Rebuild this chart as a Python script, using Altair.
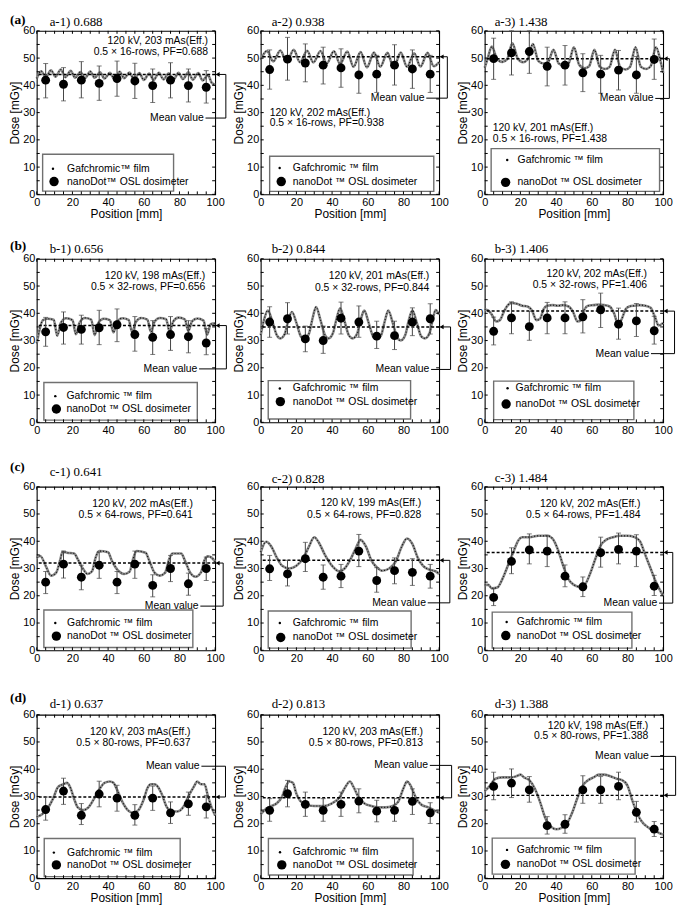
import altair as alt
import pandas as pd

SANS = "Liberation Sans"
SERIF = "Liberation Serif"
W, H = 180, 165

# ---------------- data ----------------
PANEL_IDS = ["a-1", "a-2", "a-3", "b-1", "b-2", "b-3", "c-1", "c-2", "c-3", "d-1", "d-2", "d-3"]
TITLES = ["a-1) 0.688", "a-2) 0.938", "a-3) 1.438", "b-1) 0.656", "b-2) 0.844", "b-3) 1.406",
          "c-1) 0.641", "c-2) 0.828", "c-3) 1.484", "d-1) 0.637", "d-2) 0.813", "d-3) 1.388"]
ROW_LABELS = ["(a)", "(b)", "(c)", "(d)"]
ANNOT = {
    "a-1": ["120 kV, 203 mAs(Eff.)", "0.5 \u00d7 16-rows, PF=0.688"],
    "a-2": ["120 kV, 202 mAs(Eff.)", "0.5 \u00d7 16-rows, PF=0.938"],
    "a-3": ["120 kV, 201 mAs(Eff.)", "0.5 \u00d7 16-rows, PF=1.438"],
    "b-1": ["120 kV, 198 mAs(Eff.)", "0.5 \u00d7 32-rows, PF=0.656"],
    "b-2": ["120 kV, 201 mAs(Eff.)", "0.5 \u00d7 32-rows, PF=0.844"],
    "b-3": ["120 kV, 202 mAs(Eff.)", "0.5 \u00d7 32-rows, PF=1.406"],
    "c-1": ["120 kV, 202 mAs(Eff.)", "0.5 \u00d7 64-rows, PF=0.641"],
    "c-2": ["120 kV, 199 mAs(Eff.)", "0.5 \u00d7 64-rows, PF=0.828"],
    "c-3": ["120 kV, 202 mAs(Eff.)", "0.5 \u00d7 64-rows, PF=1.484"],
    "d-1": ["120 kV, 203 mAs(Eff.)", "0.5 \u00d7 80-rows, PF=0.637"],
    "d-2": ["120 kV, 203 mAs(Eff.)", "0.5 \u00d7 80-rows, PF=0.813"],
    "d-3": ["120 kV, 198 mAs(Eff.)", "0.5 \u00d7 80-rows, PF=1.388"],
}
LEGEND_FILM = "Gafchromic \u2122 film"
LEGEND_FILM_A1 = "Gafchromic\u2122 film"
LEGEND_OSL = "nanoDot \u2122 OSL dosimeter"
LEGEND_OSL_A1 = "nanoDot\u2122 OSL dosimeter"
MEAN_LABEL = "Mean value"

X_LABELS = [0, 20, 40, 60, 80, 100]
Y_LABELS = [0, 10, 20, 30, 40, 50, 60]
TICK_X = [0, 5, 10, 15, 20, 25, 30, 35, 40, 45, 50, 55, 60, 65, 70, 75, 80, 85, 90, 95, 100]
TICK_Y = [0, 5, 10, 15, 20, 25, 30, 35, 40, 45, 50, 55, 60]

MEAN = {"a-1": 44.0, "a-2": 50.5, "a-3": 49.8, "b-1": 35.5, "b-2": 35.0, "b-3": 40.8,
        "c-1": 32.0, "c-2": 33.0, "c-3": 35.9, "d-1": 29.8, "d-2": 29.5, "d-3": 30.4}

OSL_X = [5, 15, 25, 35, 45, 55, 65, 75, 85, 95]
OSL_Y = {
    "a-1": [41.9, 40.4, 41.9, 40.7, 42.5, 41.6, 39.9, 41.9, 39.9, 39.3],
    "a-2": [45.8, 49.6, 48.2, 47.4, 46.4, 43.8, 44.1, 47.4, 46.0, 44.1],
    "a-3": [49.8, 51.9, 52.4, 47.0, 47.4, 44.6, 44.1, 45.6, 43.8, 49.5],
    "b-1": [33.2, 34.8, 34.1, 34.7, 35.8, 32.2, 31.2, 32.2, 31.4, 29.1],
    "b-2": [36.8, 38.0, 30.6, 30.0, 38.2, 36.8, 31.6, 31.8, 36.8, 38.0],
    "b-3": [33.4, 38.3, 35.1, 38.3, 38.3, 38.7, 41.3, 36.0, 37.2, 33.6],
    "c-1": [25.0, 31.6, 26.8, 31.2, 25.0, 31.6, 23.8, 30.0, 24.4, 30.0],
    "c-2": [29.9, 28.0, 33.6, 26.8, 27.2, 36.4, 25.6, 29.2, 28.6, 27.2],
    "c-3": [19.4, 32.6, 36.8, 36.4, 27.2, 23.3, 35.8, 37.0, 36.4, 23.5],
    "d-1": [25.2, 32.0, 23.1, 30.9, 29.4, 23.1, 29.4, 24.0, 27.3, 26.2],
    "d-2": [24.9, 31.0, 27.1, 24.9, 27.1, 28.3, 24.6, 24.9, 28.2, 24.0],
    "d-3": [33.7, 34.9, 32.4, 19.3, 19.8, 32.4, 32.4, 33.7, 24.2, 18.0],
}
OSL_HI = {
    "a-1": [48.0, 46.5, 48.7, 47.1, 48.9, 48.1, 46.0, 48.3, 46.0, 45.4],
    "a-2": [53.0, 57.6, 55.2, 54.0, 53.4, 50.4, 51.0, 54.9, 53.0, 51.0],
    "a-3": [57.3, 60.0, 60.0, 54.0, 54.6, 51.6, 51.0, 52.8, 50.6, 57.0],
    "b-1": [38.5, 40.5, 39.3, 41.1, 41.6, 38.8, 37.3, 38.8, 37.3, 34.4],
    "b-2": [42.4, 43.9, 35.3, 35.3, 44.1, 42.7, 37.1, 37.1, 42.0, 43.5],
    "b-3": [38.6, 44.2, 40.7, 44.0, 44.2, 45.0, 47.4, 41.9, 43.6, 38.9],
    "c-1": [28.9, 36.4, 31.2, 36.0, 28.9, 36.4, 27.7, 34.8, 28.3, 34.2],
    "c-2": [34.8, 33.0, 39.6, 31.3, 31.5, 42.5, 30.3, 33.9, 33.6, 31.5],
    "c-3": [22.7, 37.6, 42.7, 42.2, 31.3, 26.9, 41.5, 43.0, 42.4, 27.5],
    "d-1": [29.8, 36.7, 27.4, 35.6, 34.1, 27.0, 33.8, 28.0, 31.6, 30.4],
    "d-2": [29.2, 35.9, 31.6, 29.2, 31.6, 32.8, 28.6, 29.2, 32.8, 27.7],
    "d-3": [38.9, 40.1, 37.3, 22.6, 23.3, 37.6, 37.3, 38.9, 28.2, 20.8],
}
OSL_LO = {
    "a-1": [35.4, 34.3, 35.4, 34.5, 36.0, 35.2, 33.7, 35.4, 33.9, 33.5],
    "a-2": [38.6, 41.9, 41.3, 40.5, 39.3, 37.1, 37.4, 40.1, 38.9, 37.4],
    "a-3": [42.2, 43.8, 44.4, 39.8, 40.1, 37.7, 37.1, 38.3, 37.1, 42.2],
    "b-1": [27.9, 28.7, 28.7, 28.5, 29.6, 26.1, 24.9, 26.4, 25.5, 24.8],
    "b-2": [31.2, 32.4, 25.9, 25.3, 32.4, 31.2, 27.1, 26.7, 31.8, 32.4],
    "b-3": [28.4, 32.5, 30.1, 32.5, 32.5, 32.8, 34.8, 30.5, 31.5, 28.7],
    "c-1": [20.8, 26.5, 22.2, 26.4, 20.8, 26.4, 19.6, 25.2, 20.2, 25.6],
    "c-2": [25.6, 23.6, 28.9, 22.4, 23.0, 30.7, 21.3, 24.4, 23.8, 22.8],
    "c-3": [16.4, 28.1, 31.7, 30.7, 23.3, 19.7, 30.5, 31.7, 30.7, 20.1],
    "d-1": [21.3, 27.1, 19.7, 26.2, 24.6, 19.5, 24.9, 20.1, 23.1, 22.1],
    "d-2": [20.9, 26.2, 22.7, 20.9, 22.7, 24.0, 20.7, 20.9, 23.4, 20.1],
    "d-3": [28.8, 29.6, 27.9, 16.2, 16.5, 27.5, 27.5, 28.8, 20.6, 15.3],
}

FILM_X = {
    "a-1": [0, 2.5, 5, 8, 10.5, 13.5, 16, 19, 21.5, 24.5, 27, 30, 32.5, 35.5, 38, 41, 43.5, 46.5, 49, 52,
            54.5, 57.5, 60, 63, 65.5, 68.5, 71, 74, 76.5, 79.5, 82, 85, 87.5, 90.5, 93, 96, 98, 100],
    "a-2": [0, 3.5, 7, 11, 14.5, 18.5, 22, 26, 29.5, 33.5, 37, 41, 44.5, 48.5, 52, 56, 59.5, 63.5, 67, 71,
            74.5, 78.5, 82, 86, 89.5, 93.5, 97, 100],
    "a-3": [0, 1.5, 4, 7, 10, 12.5, 15.5, 18.5, 21.5, 24, 27, 30, 33, 35.5, 38.5, 41.5, 44.5, 47, 50, 53,
            56, 58.5, 61.5, 64.5, 67.5, 70, 73, 76, 79, 81.5, 84.5, 87.5, 90.5, 93, 96, 98.5, 100],
    "b-1": [0, 3.5, 6, 9.5, 11.5, 13.5, 16.5, 20, 22, 24, 27, 30.5, 32.5, 34.5, 37.5, 41, 43, 45, 48, 51.5,
            53.5, 55.5, 58.5, 62, 64, 66, 69, 72.5, 74.5, 76.5, 79.5, 83, 85, 87, 90, 93.5, 95.5, 97.5, 100],
    "b-2": [0, 2, 4, 6.5, 9, 11, 13.5, 15.5, 17.5, 20, 22.5, 24.5, 27, 29, 31, 33.5, 36, 38, 40.5, 42.5,
            44.5, 47, 49.5, 51.5, 54, 56, 58, 60.5, 63, 65, 67.5, 69.5, 71.5, 74, 76.5, 78.5, 81, 83, 85,
            87.5, 90, 92, 94.5, 96.5, 98, 100],
    "b-3": [0, 2, 4, 6.5, 8.5, 11, 13, 15, 18, 21, 24, 26.5, 29, 31, 33, 35, 38, 41, 44, 47, 49.5, 52, 54,
            56, 58, 61, 64, 67, 70, 72.5, 74.5, 76.5, 79, 81, 84, 87, 90, 93, 95.5, 97.5, 100],
    "c-1": [0, 2, 5, 8, 11, 13, 14.5, 17, 21, 23, 26, 28.5, 31, 33, 35, 40, 42, 46, 49, 52, 54, 56, 61, 63,
            66, 69, 72, 74, 76, 81, 83, 86, 89, 92, 94, 96, 98, 100],
    "c-2": [0, 3, 6, 9, 12, 16, 20, 24, 27, 30, 33, 36, 40, 44, 47, 50, 53, 56, 59, 62, 65, 68, 72, 76,
            79, 82, 85, 88, 91, 95, 98, 100],
    "c-3": [0, 2, 4, 7, 10, 13, 16, 19, 21, 25, 30, 35, 38, 41, 44, 47, 50, 53, 56, 59, 62, 65, 68, 72,
            76, 80, 84, 87, 90, 93, 96, 100],
    "d-1": [0, 3, 6, 9, 12, 15, 17, 19, 21, 23, 26, 29, 32, 35, 38, 41, 43, 45, 48, 51, 54, 57, 60, 62,
            64, 66, 68, 70, 73, 76, 79, 82, 85, 88, 90, 92, 94, 96, 98, 100],
    "d-2": [0, 3, 6, 9, 12, 14, 16, 18, 20, 22, 25, 30, 35, 40, 44, 47, 50, 52, 55, 58, 62, 66, 70, 74,
            77, 80, 82, 84, 87, 90, 94, 97, 100],
    "d-3": [0, 3, 6, 10, 15, 18, 20, 22, 25, 28, 31, 34, 37, 40, 43, 46, 49, 52, 55, 58, 61, 64, 67, 70,
            74, 77, 80, 83, 86, 89, 92, 95, 98, 100],
}
FILM_Y = {
    "a-1": [42.5, 45.2, 43.0, 45.5, 43.2, 45.8, 43.0, 45.3, 42.8, 44.9, 42.6, 45.1, 42.8, 44.8, 42.5, 44.6,
            42.4, 45.0, 42.6, 44.7, 42.3, 44.5, 42.0, 44.3, 42.0, 44.6, 42.2, 44.4, 42.0, 44.6, 42.3, 44.8,
            42.1, 44.5, 41.8, 43.8, 41.0, 40.2],
    "a-2": [49.5, 52.6, 48.8, 52.8, 48.6, 53.0, 48.5, 52.7, 48.4, 52.6, 48.0, 52.5, 47.8, 52.4, 46.8, 52.2,
            46.6, 52.0, 46.8, 51.9, 46.5, 52.0, 46.8, 51.8, 46.9, 51.9, 47.0, 48.5],
    "a-3": [46.5, 49.5, 54.2, 49.5, 48.6, 49.5, 55.4, 49.8, 48.5, 49.5, 55.2, 49.0, 48.0, 48.5, 53.0, 48.0,
            47.2, 48.0, 54.0, 47.5, 46.3, 47.0, 53.0, 46.8, 46.0, 46.8, 53.0, 46.6, 45.8, 46.8, 54.0, 46.8,
            46.0, 47.0, 54.0, 49.0, 44.5],
    "b-1": [29.0, 37.5, 38.0, 37.6, 31.8, 36.5, 38.2, 37.5, 32.3, 36.6, 38.3, 37.7, 32.0, 36.5, 38.0, 37.5,
            33.0, 36.8, 38.2, 37.6, 33.0, 36.8, 38.3, 37.7, 33.2, 36.9, 38.3, 37.8, 33.3, 37.0, 38.4, 37.8,
            33.5, 37.0, 38.1, 37.3, 32.2, 36.0, 36.3],
    "b-2": [32.0, 38.0, 41.0, 37.0, 32.0, 30.8, 32.5, 37.5, 40.5, 36.5, 31.5, 30.5, 32.5, 38.0, 42.3, 37.5,
            32.0, 30.8, 32.8, 38.0, 41.8, 37.0, 31.8, 30.8, 32.5, 37.5, 41.0, 36.5, 31.5, 30.5, 32.0, 37.0,
            41.0, 36.5, 31.0, 30.0, 32.0, 37.5, 41.0, 36.5, 31.5, 30.8, 32.5, 38.0, 41.2, 39.5],
    "b-3": [41.5, 41.0, 39.5, 37.0, 37.5, 41.0, 43.0, 43.8, 43.5, 42.8, 42.5, 41.0, 37.5, 38.0, 41.5, 42.8,
            43.0, 42.8, 43.0, 42.5, 40.5, 37.0, 37.5, 41.5, 42.8, 43.0, 43.2, 43.0, 42.5, 40.0, 36.5, 37.5,
            41.5, 42.5, 42.8, 43.0, 42.8, 42.0, 38.5, 35.5, 36.5],
    "c-1": [34.0, 34.6, 31.0, 27.4, 28.6, 32.8, 36.1, 35.8, 35.5, 33.4, 29.8, 28.0, 29.0, 34.0, 36.4, 36.0,
            33.0, 29.0, 28.0, 28.8, 33.5, 36.4, 35.8, 33.0, 28.5, 27.4, 28.5, 33.0, 35.5, 35.5, 33.0, 28.5,
            27.0, 28.5, 33.0, 34.5, 34.0, 32.5],
    "c-2": [36.0, 39.8, 38.0, 34.0, 31.0, 30.0, 31.0, 34.0, 38.0, 41.5, 39.0, 35.0, 31.0, 29.0, 30.0, 33.0,
            37.0, 40.5, 38.0, 33.0, 30.5, 29.2, 30.0, 33.0, 38.0, 41.0, 39.0, 34.0, 31.0, 29.5, 29.0, 28.0],
    "c-3": [24.0, 24.0, 22.7, 23.0, 26.3, 31.1, 36.0, 40.5, 41.5, 41.5, 42.0, 42.0, 41.0, 37.0, 31.0, 26.0,
            24.0, 23.3, 24.0, 28.0, 33.5, 38.5, 40.5, 41.5, 42.0, 42.0, 41.5, 40.0, 35.0, 30.0, 25.0, 20.0],
    "d-1": [22.5, 23.5, 25.5, 29.0, 33.5, 34.5, 35.0, 33.0, 29.0, 26.0, 25.0, 26.0, 29.0, 32.5, 35.0, 35.5,
            35.0, 32.5, 28.0, 25.0, 24.0, 25.0, 29.0, 33.0, 34.5, 34.5, 33.5, 31.0, 26.0, 24.5, 24.5, 26.0,
            30.0, 33.5, 35.5, 34.5, 34.5, 30.0, 26.0, 23.0],
    "d-2": [23.5, 25.5, 26.5, 27.5, 30.0, 33.5, 35.5, 35.0, 31.0, 28.5, 27.0, 26.5, 26.5, 27.5, 29.5, 33.0,
            35.5, 33.5, 29.5, 27.5, 26.5, 26.0, 26.0, 26.5, 28.0, 33.0, 35.5, 34.0, 29.5, 27.0, 26.0, 25.0,
            24.0],
    "d-3": [32.0, 34.0, 36.5, 37.0, 37.0, 37.5, 38.0, 37.0, 36.0, 33.0, 28.0, 22.0, 19.0, 18.0, 18.5, 20.0,
            24.0, 29.5, 34.0, 36.0, 37.0, 38.0, 38.0, 37.5, 36.5, 36.0, 34.0, 28.0, 23.0, 20.0, 18.5, 17.5,
            16.5, 16.0],
}

# ---------------- layout (annotation positions, in axis units) ----------------
LAYOUT = {
    "a-1": dict(tdy=-9, ann=(96, 56.3, 52.3, "right"), lbl=(93.6, 28.0), bx=106, box=(3.3, 76.7, 1.2, 14.7), dot=(9.1, 9.4), circ=(9.7, 4.7), tx=17),
    "a-2": dict(tdy=-9, ann=(5, 30.0, 26.0, "left"), lbl=(91.8, 35.3), bx=104.6, box=(5, 97, 1.1, 14.0), dot=(10.6, 9.7), circ=(11.5, 4.7), tx=18),
    "a-3": dict(tdy=-9, ann=(4.5, 24.2, 20.3, "left"), lbl=(94.6, 35.2), bx=103.5, box=(3.6, 98, 1.1, 16.8), dot=(12.6, 12.6), circ=(11.7, 4.4), tx=18.4),
    "b-1": dict(tdy=-10, ann=(94.5, 53.8, 49.6, "right"), lbl=(90.0, 19.6), bx=106.3, box=(4, 90, 0.8, 14.6), dot=(10.4, 9.6), circ=(11, 4.9), tx=16.7),
    "b-2": dict(tdy=-10, ann=(94.5, 53.5, 49.4, "right"), lbl=(94.5, 19.4), bx=106.4, box=(4.2, 84, 1.2, 15.3), dot=(10.7, 12.4), circ=(11, 7.6), tx=18),
    "b-3": dict(tdy=-10, ann=(91, 54.4, 50.3, "right"), lbl=(92.2, 25.2), bx=106.4, box=(5, 83.6, 1.0, 15.1), dot=(12.8, 12.5), circ=(12, 6.7), tx=17.3),
    "c-1": dict(tdy=-15, ann=(87.5, 53.8, 49.6, "right"), lbl=(90.7, 16.2), bx=104.5, box=(4, 87.5, 1.0, 14.8), dot=(10.4, 10.0), circ=(11, 5.2), tx=17),
    "c-2": dict(tdy=-8, ann=(90, 54.0, 49.6, "right"), lbl=(92.6, 17.4), bx=106, box=(4.2, 84.3, 0.8, 14.4), dot=(10.7, 10.0), circ=(11.2, 4.7), tx=18),
    "c-3": dict(tdy=-9, ann=(87.3, 53.8, 49.6, "right"), lbl=(96.7, 17.3), bx=105.4, box=(4.2, 82.5, 0.8, 14.0), dot=(12.3, 10.4), circ=(11.8, 5.4), tx=18),
    "d-1": dict(tdy=-11, ann=(86.2, 53.8, 49.5, "right"), lbl=(91.3, 41.1), bx=105.8, box=(4.2, 80.4, 0.6, 14.6), dot=(9.6, 9.4), circ=(11, 4.9), tx=17),
    "d-2": dict(tdy=-11, ann=(91, 53.8, 49.5, "right"), lbl=(93.8, 41.4), bx=107, box=(4.3, 85.4, 1.2, 14.6), dot=(10.8, 9.5), circ=(11.8, 4.9), tx=18),
    "d-3": dict(tdy=-11, ann=(91.7, 56.0, 52.0, "right"), lbl=(92.0, 44.7), bx=107, box=(4.2, 84.3, 1.5, 14.7), dot=(12.5, 10.4), circ=(11.6, 5.1), tx=18),
}
TITLE_DX = [13, 11, 10]
ROW_LABEL_DY = [-11, -13, -20, -17]

XS = alt.Scale(domain=[0, 100], nice=False, zero=False)
YS = alt.Scale(domain=[0, 60], nice=False, zero=False)


def panel(i):
    pid = PANEL_IDS[i]
    row, col = divmod(i, 3)
    L = LAYOUT[pid]
    assert len(FILM_X[pid]) == len(FILM_Y[pid]), pid

    if row in (0, 3):
        xaxis = alt.Axis(values=X_LABELS, title="Position [mm]")
    else:
        xaxis = alt.Axis(values=X_LABELS, title=None)
    yaxis = alt.Axis(values=Y_LABELS, title="Dose [mGy]")

    def xq(f):
        return alt.X(f, type="quantitative", scale=XS, axis=xaxis)

    def yq(f):
        return alt.Y(f, type="quantitative", scale=YS, axis=yaxis)

    layers = []

    # film profile (first layer carries the axes)
    film_df = pd.DataFrame({"x": FILM_X[pid], "y": FILM_Y[pid]})
    layers.append(alt.Chart(film_df).mark_line(color="#8a8a8a", strokeWidth=2.6, interpolate="monotone").encode(
        x=xq("x"), y=yq("y")))
    layers.append(alt.Chart(film_df).mark_line(color="#111111", strokeWidth=1.2, strokeDash=[1, 2],
                                               interpolate="monotone").encode(x=xq("x"), y=yq("y")))

    # legend box
    bx0, bx1, by0, by1 = L["box"]
    box_df = pd.DataFrame({"x": [bx0], "x2": [bx1], "y": [by0], "y2": [by1]})
    layers.append(alt.Chart(box_df).mark_rect(fill="white", stroke="#707070", strokeWidth=1.4).encode(
        x=xq("x"), x2=alt.X2("x2"), y=yq("y"), y2=alt.Y2("y2")))

    # inward ticks
    tx_df = pd.DataFrame({"t": TICK_X})
    ty_df = pd.DataFrame({"t": TICK_Y})
    layers.append(alt.Chart(tx_df).mark_rule(color="black", strokeWidth=1).encode(
        x=xq("t"), y=alt.value(H), y2=alt.value(H - 3)))
    layers.append(alt.Chart(tx_df).mark_rule(color="black", strokeWidth=1).encode(
        x=xq("t"), y=alt.value(0), y2=alt.value(3)))
    layers.append(alt.Chart(ty_df).mark_rule(color="black", strokeWidth=1).encode(
        y=yq("t"), x=alt.value(0), x2=alt.value(3)))
    layers.append(alt.Chart(ty_df).mark_rule(color="black", strokeWidth=1).encode(
        y=yq("t"), x=alt.value(W), x2=alt.value(W - 3)))

    # mean line
    mean_df = pd.DataFrame({"m": [MEAN[pid]]})
    layers.append(alt.Chart(mean_df).mark_rule(color="black", strokeWidth=1.5, strokeDash=[3, 2]).encode(y=yq("m")))

    # OSL points with error bars
    osl_df = pd.DataFrame({"x": OSL_X, "y": OSL_Y[pid], "lo": OSL_LO[pid], "hi": OSL_HI[pid]})
    layers.append(alt.Chart(osl_df).mark_rule(color="#444", strokeWidth=1).encode(
        x=xq("x"), y=yq("lo"), y2=alt.Y2("hi")))
    layers.append(alt.Chart(osl_df).mark_tick(orient="horizontal", size=5, thickness=1, color="#444").encode(
        x=xq("x"), y=yq("lo")))
    layers.append(alt.Chart(osl_df).mark_tick(orient="horizontal", size=5, thickness=1, color="#444").encode(
        x=xq("x"), y=yq("hi")))
    layers.append(alt.Chart(osl_df).mark_circle(size=80, color="black", opacity=1).encode(x=xq("x"), y=yq("y")))

    # condition annotation
    ax, ay1, ay2, aal = L["ann"]
    ann_df = pd.DataFrame({"x": [ax, ax], "y": [ay1, ay2], "t": ANNOT[pid]})
    layers.append(alt.Chart(ann_df).mark_text(align=aal, baseline="middle", font=SANS, fontSize=10.5,
                                              color="black").encode(x=xq("x"), y=yq("y"), text="t:N"))

    # legend contents
    dx, dy = L["dot"]
    cx, cy = L["circ"]
    layers.append(alt.Chart(pd.DataFrame({"x": [dx], "y": [dy]})).mark_circle(size=6, color="black", opacity=1).encode(
        x=xq("x"), y=yq("y")))
    layers.append(alt.Chart(pd.DataFrame({"x": [cx], "y": [cy]})).mark_circle(size=90, color="black", opacity=1).encode(
        x=xq("x"), y=yq("y")))
    leg_texts = [LEGEND_FILM_A1, LEGEND_OSL_A1] if pid == "a-1" else [LEGEND_FILM, LEGEND_OSL]
    leg_df = pd.DataFrame({"x": [L["tx"], L["tx"]], "y": [dy, cy], "t": leg_texts})
    layers.append(alt.Chart(leg_df).mark_text(align="left", baseline="middle", font=SANS, fontSize=10.5,
                                              color="black").encode(x=xq("x"), y=yq("y"), text="t:N"))

    # mean value label + bracket arrow
    lx, ly = L["lbl"]
    bx = L["bx"]
    m = MEAN[pid]
    layers.append(alt.Chart(pd.DataFrame({"x": [lx], "y": [ly], "t": [MEAN_LABEL]})).mark_text(
        align="right", baseline="middle", font=SANS, fontSize=10.5, color="black").encode(
        x=xq("x"), y=yq("y"), text="t:N"))
    br_df = pd.DataFrame({"x": [lx + 1.0, bx, bx], "x2": [bx, bx, 100.8],
                          "y": [ly, ly, m], "y2": [ly, m, m]})
    layers.append(alt.Chart(br_df).mark_rule(color="black", strokeWidth=1).encode(
        x=xq("x"), x2=alt.X2("x2"), y=yq("y"), y2=alt.Y2("y2")))
    layers.append(alt.Chart(pd.DataFrame({"x": [101.4], "y": [m]})).mark_point(
        shape="triangle-left", filled=True, size=22, color="black", opacity=1).encode(x=xq("x"), y=yq("y")))

    # panel title
    layers.append(alt.Chart(pd.DataFrame({"t": [TITLES[i]]})).mark_text(
        align="left", baseline="middle", font=SERIF, fontSize=13, color="black").encode(
        x=alt.value(TITLE_DX[col]), y=alt.value(L["tdy"]), text="t:N"))
    if col == 0:
        layers.append(alt.Chart(pd.DataFrame({"t": [ROW_LABELS[row]]})).mark_text(
            align="left", baseline="middle", font=SERIF, fontSize=13.5, fontWeight="bold", color="black").encode(
            x=alt.value(-27), y=alt.value(ROW_LABEL_DY[row]), text="t:N"))

    return alt.layer(*layers).properties(width=W, height=H)


panels = [panel(i) for i in range(12)]

chart = alt.concat(*panels, columns=3, spacing={"row": 65, "column": 46}, bounds="flush").properties(
    padding={"left": 0, "top": 0, "right": 0, "bottom": 0}
).configure_view(
    stroke="black", strokeWidth=1.1
).configure_axis(
    grid=False, domain=False, ticks=False, tickSize=0, labelFlush=False,
    labelFont=SANS, labelFontSize=11, labelColor="black", labelPadding=2,
    titleFont=SANS, titleFontSize=12, titleFontWeight="normal", titleColor="black", titlePadding=1,
)

chart.save("out.html", embed_options={"renderer": "svg", "actions": False})
